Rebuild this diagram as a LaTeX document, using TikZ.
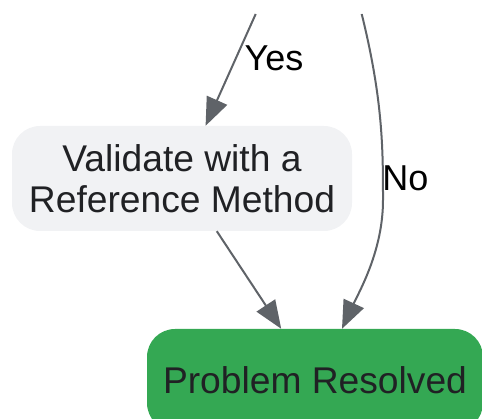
\documentclass[tikz,border=0pt]{standalone}
\usepackage{fontspec}
\setmainfont{Liberation Sans}
\usetikzlibrary{arrows.meta}
\definecolor{procfill}{HTML}{F1F2F4}
\definecolor{donefill}{HTML}{34A853}
\definecolor{txt}{HTML}{202124}
\definecolor{edge}{HTML}{5F6368}
\tikzset{
  box/.style={rectangle, rounded corners=28pt, inner sep=0pt, align=center,
    text=txt, font=\fontsize{37.2}{41.5}\selectfont},
  procbox/.style={box, fill=procfill},
  donebox/.style={box, fill=donefill},
  arr/.style={draw=edge, line width=2pt, -{Triangle[length=28pt,width=22pt]}},
  lbl/.style={font=\fontsize{36}{40}\selectfont, text=black, inner sep=0pt, anchor=base}
}
\begin{document}
\begin{tikzpicture}[x=1pt,y=-1pt]
\useasboundingbox (0,0) rectangle (482,419);
\clip (0,0) rectangle (482,419);
\node[procbox, minimum width=340pt, minimum height=105pt] (val) at (182,178.5) {Validate with a\\Reference Method};
\node[donebox, minimum width=336pt, minimum height=102pt] (res) at (315,380) {Problem Resolved};
\coordinate (yesstart) at (255.7,14);
\coordinate (nostart) at (361.7,14);
\coordinate (nomid) at (383,200);
\draw[arr] (yesstart) -- (val);
\draw[arr] (val) -- (res);
\draw[arr] (nostart) .. controls (383,100) and (383,150) .. (nomid) .. controls (383,250) and (360,290) .. ([xshift=27pt]res.north);
\node[lbl] (yes) at (274,71) {Yes};
\node[lbl] (no) at (405.5,191) {No};
\end{tikzpicture}
\end{document}
